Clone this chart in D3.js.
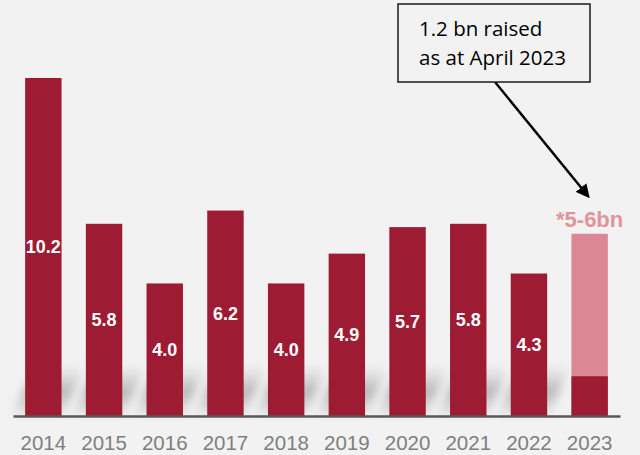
<!DOCTYPE html>
<html>
<head>
<meta charset="utf-8">
<script src="https://cdn.jsdelivr.net/npm/d3@7"></script>
<style>
  body { margin: 0; background: #f2f2f2; }
  svg { display: block; }
</style>
</head>
<body>
<script>
// Data
const years = ["2014", "2015", "2016", "2017", "2018", "2019", "2020", "2021", "2022", "2023"];
const raised = [10.2, 5.8, 4.0, 6.2, 4.0, 4.9, 5.7, 5.8, 4.3, 1.2];
const labels = ["10.2", "5.8", "4.0", "6.2", "4.0", "4.9", "5.7", "5.8", "4.3", ""];
const estimateYear = "2023";
const estimateTop = 5.5;
const estimateLabel = "*5-6bn";
const noteLines = ["1.2 bn raised", "as at April 2023"];

const W = 640, H = 455;
const base = 416;

const svg = d3.select("body")
    .append("svg")
    .attr("width", W)
    .attr("height", H);

svg.append("rect").attr("width", W).attr("height", H).attr("fill", "#f2f2f2");

// Scales
const x = d3.scaleBand()
    .domain(years)
    .range([13, 620])
    .paddingInner(0.4)
    .paddingOuter(0.2);

const y = d3.scaleLinear()
    .domain([0, 10.2])
    .range([base, 78]);

// Soft shadow behind bars
const defs = svg.append("defs");
defs.append("filter")
    .attr("id", "blur")
    .attr("x", "-50%").attr("y", "-50%")
    .attr("width", "200%").attr("height", "200%")
    .append("feGaussianBlur")
    .attr("stdDeviation", 5);

const grad = defs.append("linearGradient")
    .attr("id", "shade")
    .attr("x1", 0).attr("y1", 1).attr("x2", 0).attr("y2", 0);
grad.append("stop").attr("offset", "0%").attr("stop-color", "#bdbdbd").attr("stop-opacity", 0.3);
grad.append("stop").attr("offset", "45%").attr("stop-color", "#b0b0b0").attr("stop-opacity", 0.9);
grad.append("stop").attr("offset", "100%").attr("stop-color", "#c8c8c8").attr("stop-opacity", 0);

svg.append("g")
    .attr("filter", "url(#blur)")
    .selectAll("polygon")
    .data(years.slice(0, 9))
    .enter()
    .append("polygon")
    .attr("fill", "url(#shade)")
    .attr("points", d => {
        const x0 = x(d), x1 = x(d) + x.bandwidth();
        return [[x0 - 12, base - 2], [x1 + 2, base - 2], [x1 + 24, base - 52], [x0 + 10, base - 52]].join(" ");
    });

// Estimate bar (2023 expected total)
svg.append("rect")
    .attr("x", x(estimateYear))
    .attr("y", y(estimateTop))
    .attr("width", x.bandwidth())
    .attr("height", y(0) - y(estimateTop))
    .attr("fill", "#dc8894");

// Bars
svg.selectAll(".bar")
    .data(years)
    .enter()
    .append("rect")
    .attr("class", "bar")
    .attr("x", d => x(d))
    .attr("y", (d, i) => y(raised[i]))
    .attr("width", x.bandwidth())
    .attr("height", (d, i) => y(0) - y(raised[i]))
    .attr("fill", "#9e1b34");

// Value labels
svg.selectAll(".label")
    .data(years)
    .enter()
    .append("text")
    .attr("class", "label")
    .attr("x", d => x(d) + x.bandwidth() / 2)
    .attr("y", (d, i) => (y(raised[i]) + y(0)) / 2)
    .attr("dy", ".36em")
    .attr("text-anchor", "middle")
    .attr("font-family", "Liberation Sans, Arial, sans-serif")
    .attr("font-weight", "bold")
    .attr("font-size", "18px")
    .attr("fill", "#fff")
    .text((d, i) => labels[i]);

svg.append("text")
    .attr("x", x(estimateYear) + x.bandwidth() / 2)
    .attr("y", y(estimateTop) - 7)
    .attr("text-anchor", "middle")
    .attr("font-family", "Liberation Sans, Arial, sans-serif")
    .attr("font-weight", "bold")
    .attr("font-size", "22px")
    .attr("fill", "#e0959e")
    .text(estimateLabel);

// X axis
const xAxis = svg.append("g")
    .attr("transform", `translate(0,${base})`)
    .call(d3.axisBottom(x).tickSize(0).tickPadding(19));
xAxis.select(".domain")
    .attr("stroke", "#595959")
    .attr("stroke-width", 2.5);
xAxis.selectAll("text")
    .attr("font-family", "Liberation Sans, Arial, sans-serif")
    .attr("font-size", "20.5px")
    .attr("fill", "#7f7f7f");

// Annotation box + arrow
defs.append("marker")
    .attr("id", "arrow")
    .attr("viewBox", "0 0 10 10")
    .attr("refX", 8).attr("refY", 5)
    .attr("markerWidth", 5.5).attr("markerHeight", 5.5)
    .attr("orient", "auto")
    .append("path")
    .attr("d", "M0,0 L10,5 L0,10 z")
    .attr("fill", "#000");

svg.append("line")
    .attr("x1", 495).attr("y1", 82)
    .attr("x2", 588).attr("y2", 196)
    .attr("stroke", "#000")
    .attr("stroke-width", 2.5)
    .attr("marker-end", "url(#arrow)");

svg.append("rect")
    .attr("x", 398).attr("y", 4)
    .attr("width", 192).attr("height", 78)
    .attr("fill", "#f2f2f2")
    .attr("stroke", "#1a1a1a")
    .attr("stroke-width", 1.5);

svg.selectAll(".note")
    .data(noteLines)
    .enter()
    .append("text")
    .attr("class", "note")
    .attr("x", 419)
    .attr("y", (d, i) => 36 + i * 29)
    .attr("font-family", "Open Sans, sans-serif")
    .attr("font-size", "20.5px")
    .attr("fill", "#000")
    .text(d => d);
</script>
</body>
</html>
